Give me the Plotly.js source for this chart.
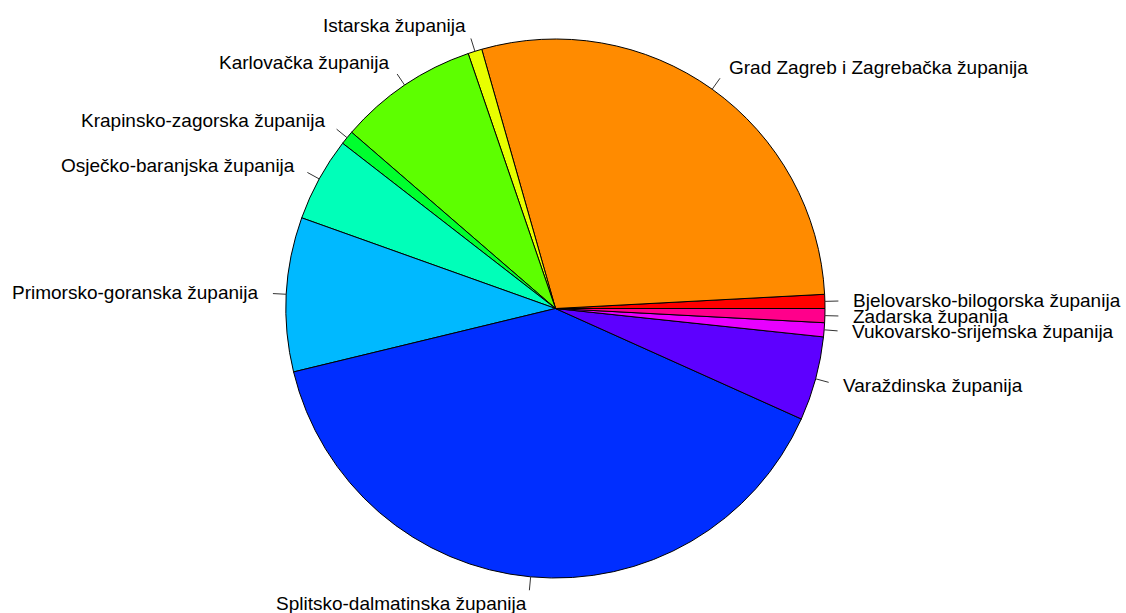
<!DOCTYPE html>
<html>
<head>
<meta charset="utf-8">
<script src="https://cdn.plot.ly/plotly-3.0.1.min.js"></script>
<style>html,body{margin:0;padding:0;background:#fff;}#chart{width:1126px;height:613px;}</style>
</head>
<body>
<div id="chart"></div>
<script>
// Data
const categories = [
  "Bjelovarsko-bilogorska županija",
  "Grad Zagreb i Zagrebačka županija",
  "Istarska županija",
  "Karlovačka županija",
  "Krapinsko-zagorska županija",
  "Osječko-baranjska županija",
  "Primorsko-goranska županija",
  "Splitsko-dalmatinska županija",
  "Varaždinska županija",
  "Vukovarsko-srijemska županija",
  "Zadarska županija"
];
const values = [1, 34, 1, 10, 1, 6, 11, 47, 6, 1, 1];
const colors = ["#FF0000","#FF8B00","#E8FF00","#5DFF00","#00FF2E","#00FFB9","#00B9FF","#002EFF","#5D00FF","#E800FF","#FF008B"];

// Layout geometry
const W = 1126, H = 613;
const cx = 555.5, cy = 308.5, R = 269.5;

const total = values.reduce((a, b) => a + b, 0);
const shapes = [];
const annotations = [];
let cum = 0;
values.forEach((v, i) => {
  const mid = 2 * Math.PI * (cum + v / 2) / total;
  cum += v;
  const c = Math.cos(mid), s = Math.sin(mid);
  const px = r => (cx + r * c) / W;
  const py = r => 1 - (cy - r * s) / H;
  shapes.push({type: 'line', xref: 'paper', yref: 'paper',
    x0: px(R), y0: py(R), x1: px(R * 1.05), y1: py(R * 1.05),
    line: {color: '#333', width: 1}});
  annotations.push({xref: 'paper', yref: 'paper', x: px(R * 1.1), y: py(R * 1.1),
    text: categories[i], showarrow: false,
    xanchor: c < 0 ? 'right' : 'left', yanchor: 'middle',
    font: {family: 'Liberation Sans, Arial, sans-serif', size: 19, color: '#000'},
    borderpad: 0});
});

const trace = {
  type: 'pie',
  labels: categories,
  values: values,
  sort: false,
  direction: 'counterclockwise',
  rotation: 90 - 360 * values[0] / total,
  textinfo: 'none',
  hoverinfo: 'label+value',
  marker: {colors: colors, line: {color: '#000', width: 1}},
  domain: {x: [(cx - R) / W, (cx + R) / W], y: [1 - (cy + R) / H, 1 - (cy - R) / H]}
};

const layout = {
  width: W, height: H,
  margin: {l: 0, r: 0, t: 0, b: 0},
  paper_bgcolor: '#fff',
  showlegend: false,
  shapes: shapes,
  annotations: annotations
};

Plotly.newPlot('chart', [trace], layout, {displayModeBar: false, staticPlot: true});
</script>
</body>
</html>
